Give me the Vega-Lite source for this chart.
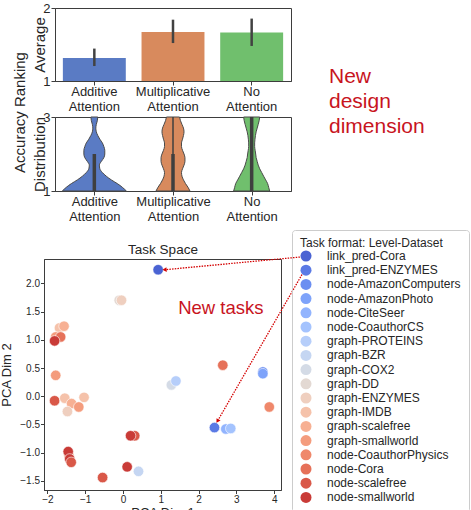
{
  "$schema": "https://vega.github.io/schema/vega-lite/v6.json",
  "padding": {"left": 0, "top": 1, "right": 0, "bottom": 0},
  "config": {
    "font": "Liberation Sans",
    "view": {"stroke": "#3d3d3d", "strokeWidth": 1},
    "axis": {"grid": false, "domainColor": "#3d3d3d", "tickColor": "#3d3d3d", "tickSize": 4, "labelColor": "#262626", "titleColor": "#262626", "titleFontWeight": "normal", "labelPadding": 2, "labelOverlap": false},
    "title": {"fontWeight": "normal", "color": "#262626"}
  },
  "resolve": {"scale": {"color": "independent", "strokeWidth": "independent"}, "legend": {"color": "independent"}},
  "spacing": 5,
  "vconcat": [
    {
      "spacing": -32,
      "resolve": {"scale": {"color": "independent"}},
      "hconcat": [
        {
          "width": 1,
          "height": 1,
          "view": {"stroke": null},
          "data": {"values": [{"t": ""}]},
          "mark": {"type": "text"},
          "encoding": {"text": {"field": "t"}}
        },
        {
          "spacing": 36,
          "resolve": {"scale": {"color": "independent"}},
          "hconcat": [
            {
              "title": {"text": "Accuracy Ranking", "orient": "left", "anchor": "middle", "fontSize": 15, "offset": 4},
              "spacing": -4,
              "resolve": {"scale": {"color": "independent"}},
              "vconcat": [
                {
                  "width": 236,
                  "height": 73,
                  "data": {"values": [
                    {"a": "Additive Attention", "m": 1.315, "lo": 1.205, "hi": 1.444},
                    {"a": "Multiplicative Attention", "m": 1.671, "lo": 1.52, "hi": 1.84},
                    {"a": "No Attention", "m": 1.663, "lo": 1.48, "hi": 1.855}
                  ]},
                  "layer": [
                    {
                      "mark": {"type": "bar"},
                      "encoding": {
                        "x": {"field": "a", "type": "nominal", "sort": null, "scale": {"paddingInner": 0.2, "paddingOuter": 0.1},
                          "axis": {"title": null, "labelAngle": 0, "labelExpr": "split(datum.label, ' ')", "labelFontSize": 13, "labelLineHeight": 14.5, "labelPadding": 0.5}},
                        "y": {"field": "m", "type": "quantitative", "scale": {"domain": [1, 2], "zero": false, "nice": false},
                          "axis": {"values": [1, 2], "format": "d", "title": "Average", "titleFontSize": 15, "labelFontSize": 13, "titlePadding": -5, "labelPadding": 1}},
                        "y2": {"datum": 1},
                        "color": {"field": "a", "type": "nominal", "sort": null, "scale": {"domain": ["Additive Attention", "Multiplicative Attention", "No Attention"], "range": ["#5a7bc4", "#d88a5d", "#70bf6d"]}, "legend": null}
                      }
                    },
                    {
                      "mark": {"type": "rule", "color": "#424242", "strokeWidth": 2.5},
                      "encoding": {
                        "x": {"field": "a", "type": "nominal", "sort": null},
                        "y": {"field": "lo", "type": "quantitative"},
                        "y2": {"field": "hi"}
                      }
                    }
                  ]
                },
                {
                  "width": 236,
                  "height": 74,
                  "layer": [
                    {
                      "data": {"values": [
                        {"a": "Additive Attention", "v": 1.0, "lo": -0.407, "hi": 0.407},
                        {"a": "Additive Attention", "v": 1.1, "lo": -0.356, "hi": 0.356},
                        {"a": "Additive Attention", "v": 1.2, "lo": -0.292, "hi": 0.292},
                        {"a": "Additive Attention", "v": 1.3, "lo": -0.216, "hi": 0.216},
                        {"a": "Additive Attention", "v": 1.4, "lo": -0.152, "hi": 0.152},
                        {"a": "Additive Attention", "v": 1.5, "lo": -0.102, "hi": 0.102},
                        {"a": "Additive Attention", "v": 1.6, "lo": -0.070, "hi": 0.070},
                        {"a": "Additive Attention", "v": 1.7, "lo": -0.064, "hi": 0.064},
                        {"a": "Additive Attention", "v": 1.8, "lo": -0.089, "hi": 0.089},
                        {"a": "Additive Attention", "v": 1.9, "lo": -0.121, "hi": 0.121},
                        {"a": "Additive Attention", "v": 2.0, "lo": -0.133, "hi": 0.133},
                        {"a": "Additive Attention", "v": 2.1, "lo": -0.133, "hi": 0.133},
                        {"a": "Additive Attention", "v": 2.2, "lo": -0.121, "hi": 0.121},
                        {"a": "Additive Attention", "v": 2.3, "lo": -0.102, "hi": 0.102},
                        {"a": "Additive Attention", "v": 2.4, "lo": -0.070, "hi": 0.070},
                        {"a": "Additive Attention", "v": 2.5, "lo": -0.044, "hi": 0.044},
                        {"a": "Additive Attention", "v": 2.6, "lo": -0.025, "hi": 0.025},
                        {"a": "Additive Attention", "v": 2.7, "lo": -0.019, "hi": 0.019},
                        {"a": "Additive Attention", "v": 2.8, "lo": -0.025, "hi": 0.025},
                        {"a": "Additive Attention", "v": 2.9, "lo": -0.038, "hi": 0.038},
                        {"a": "Additive Attention", "v": 3.0, "lo": -0.044, "hi": 0.044},
                        {"a": "Multiplicative Attention", "v": 1.0, "lo": 0.784, "hi": 1.216},
                        {"a": "Multiplicative Attention", "v": 1.1, "lo": 0.809, "hi": 1.191},
                        {"a": "Multiplicative Attention", "v": 1.2, "lo": 0.841, "hi": 1.159},
                        {"a": "Multiplicative Attention", "v": 1.3, "lo": 0.867, "hi": 1.133},
                        {"a": "Multiplicative Attention", "v": 1.4, "lo": 0.886, "hi": 1.114},
                        {"a": "Multiplicative Attention", "v": 1.5, "lo": 0.892, "hi": 1.108},
                        {"a": "Multiplicative Attention", "v": 1.6, "lo": 0.879, "hi": 1.121},
                        {"a": "Multiplicative Attention", "v": 1.7, "lo": 0.860, "hi": 1.140},
                        {"a": "Multiplicative Attention", "v": 1.8, "lo": 0.848, "hi": 1.152},
                        {"a": "Multiplicative Attention", "v": 1.9, "lo": 0.848, "hi": 1.152},
                        {"a": "Multiplicative Attention", "v": 2.0, "lo": 0.860, "hi": 1.140},
                        {"a": "Multiplicative Attention", "v": 2.1, "lo": 0.879, "hi": 1.121},
                        {"a": "Multiplicative Attention", "v": 2.2, "lo": 0.892, "hi": 1.108},
                        {"a": "Multiplicative Attention", "v": 2.3, "lo": 0.892, "hi": 1.108},
                        {"a": "Multiplicative Attention", "v": 2.4, "lo": 0.879, "hi": 1.121},
                        {"a": "Multiplicative Attention", "v": 2.5, "lo": 0.867, "hi": 1.133},
                        {"a": "Multiplicative Attention", "v": 2.6, "lo": 0.860, "hi": 1.140},
                        {"a": "Multiplicative Attention", "v": 2.7, "lo": 0.867, "hi": 1.133},
                        {"a": "Multiplicative Attention", "v": 2.8, "lo": 0.886, "hi": 1.114},
                        {"a": "Multiplicative Attention", "v": 2.9, "lo": 0.905, "hi": 1.095},
                        {"a": "Multiplicative Attention", "v": 3.0, "lo": 0.917, "hi": 1.083},
                        {"a": "No Attention", "v": 1.0, "lo": 1.771, "hi": 2.229},
                        {"a": "No Attention", "v": 1.1, "lo": 1.784, "hi": 2.216},
                        {"a": "No Attention", "v": 1.2, "lo": 1.797, "hi": 2.203},
                        {"a": "No Attention", "v": 1.3, "lo": 1.822, "hi": 2.178},
                        {"a": "No Attention", "v": 1.4, "lo": 1.848, "hi": 2.152},
                        {"a": "No Attention", "v": 1.5, "lo": 1.873, "hi": 2.127},
                        {"a": "No Attention", "v": 1.6, "lo": 1.898, "hi": 2.102},
                        {"a": "No Attention", "v": 1.7, "lo": 1.917, "hi": 2.083},
                        {"a": "No Attention", "v": 1.8, "lo": 1.930, "hi": 2.070},
                        {"a": "No Attention", "v": 1.9, "lo": 1.943, "hi": 2.057},
                        {"a": "No Attention", "v": 2.0, "lo": 1.949, "hi": 2.051},
                        {"a": "No Attention", "v": 2.1, "lo": 1.956, "hi": 2.044},
                        {"a": "No Attention", "v": 2.2, "lo": 1.962, "hi": 2.038},
                        {"a": "No Attention", "v": 2.3, "lo": 1.962, "hi": 2.038},
                        {"a": "No Attention", "v": 2.4, "lo": 1.958, "hi": 2.042},
                        {"a": "No Attention", "v": 2.5, "lo": 1.952, "hi": 2.048},
                        {"a": "No Attention", "v": 2.6, "lo": 1.943, "hi": 2.057},
                        {"a": "No Attention", "v": 2.7, "lo": 1.930, "hi": 2.070},
                        {"a": "No Attention", "v": 2.8, "lo": 1.917, "hi": 2.083},
                        {"a": "No Attention", "v": 2.9, "lo": 1.905, "hi": 2.095},
                        {"a": "No Attention", "v": 3.0, "lo": 1.898, "hi": 2.102}
                      ]},
                      "mark": {"type": "area", "orient": "horizontal", "interpolate": "monotone", "stroke": "#4a4a4a", "strokeWidth": 1},
                      "encoding": {
                        "y": {"field": "v", "type": "quantitative", "scale": {"domain": [1, 3], "nice": false, "zero": false},
                          "axis": {"values": [1, 2, 3], "format": "d", "title": "Distribution", "titleFontSize": 15, "labelFontSize": 13, "titlePadding": -5, "labelPadding": 1}},
                        "x": {"field": "lo", "type": "quantitative", "scale": {"domain": [-0.5, 2.5], "nice": false, "zero": false},
                          "axis": {"values": [0, 1, 2], "title": null, "labelFontSize": 13, "labelLineHeight": 14.5, "labelPadding": 0.5,
                            "labelExpr": "[['Additive', 'Attention'], ['Multiplicative', 'Attention'], ['No', 'Attention']][datum.value]"}},
                        "x2": {"field": "hi"},
                        "color": {"field": "a", "type": "nominal", "sort": null, "scale": {"domain": ["Additive Attention", "Multiplicative Attention", "No Attention"], "range": ["#5a7bc4", "#d88a5d", "#70bf6d"]}, "legend": null}
                      }
                    },
                    {
                      "data": {"values": [
                        {"p": 0, "v1": 1, "v2": 2, "kind": "box"},
                        {"p": 1, "v1": 1, "v2": 2, "kind": "box"},
                        {"p": 1, "v1": 2, "v2": 3, "kind": "whisker"},
                        {"p": 2, "v1": 1, "v2": 3, "kind": "box"}
                      ]},
                      "mark": {"type": "rule", "color": "#3f3f3f"},
                      "encoding": {
                        "x": {"field": "p", "type": "quantitative"},
                        "y": {"field": "v1", "type": "quantitative"},
                        "y2": {"field": "v2"},
                        "strokeWidth": {"field": "kind", "type": "nominal", "scale": {"domain": ["box", "whisker"], "range": [3.5, 1.5]}, "legend": null}
                      }
                    }
                  ]
                }
              ]
            },
            {
              "width": 2,
              "height": 137,
              "view": {"stroke": null},
              "data": {"values": [{"t": "New design dimension"}]},
              "mark": {"type": "text", "align": "left", "baseline": "middle", "fontSize": 21, "lineHeight": 25, "color": "#c8141e"},
              "encoding": {"text": {"value": ["New", "design", "dimension"]}}
            }
          ]
        }
      ]
    },
    {
      "width": 237,
      "height": 231,
      "resolve": {"axis": {"x": "independent", "y": "independent"}},
      "layer": [
        {
          "data": {"values": [
            {"task": "graph-DD", "x": -0.10, "y": 1.70},
            {"task": "graph-ENZYMES", "x": -0.04, "y": 1.70},
            {"task": "graph-IMDB", "x": -1.68, "y": 1.21},
            {"task": "graph-scalefree", "x": -1.56, "y": 1.24},
            {"task": "graph-smallworld", "x": -1.78, "y": 1.05},
            {"task": "node-Cora", "x": -1.65, "y": 1.05},
            {"task": "node-smallworld", "x": -1.81, "y": 0.98},
            {"task": "graph-smallworld", "x": -1.78, "y": 0.37},
            {"task": "node-scalefree", "x": -1.81, "y": -0.08},
            {"task": "graph-IMDB", "x": -1.54, "y": -0.035},
            {"task": "graph-scalefree", "x": -1.36, "y": -0.13},
            {"task": "graph-ENZYMES", "x": -1.47, "y": -0.27},
            {"task": "graph-smallworld", "x": -1.17, "y": -0.19},
            {"task": "graph-IMDB", "x": -1.03, "y": -0.02},
            {"task": "graph-scalefree", "x": -1.43, "y": -1.05},
            {"task": "node-smallworld", "x": -1.45, "y": -0.98},
            {"task": "node-smallworld", "x": -1.41, "y": -1.11},
            {"task": "node-scalefree", "x": -1.37, "y": -1.17},
            {"task": "node-scalefree", "x": -0.54, "y": -1.44},
            {"task": "node-smallworld", "x": 0.11, "y": -1.25},
            {"task": "graph-BZR", "x": 0.41, "y": -1.33},
            {"task": "node-scalefree", "x": 0.31, "y": -0.70},
            {"task": "node-smallworld", "x": 0.20, "y": -0.70},
            {"task": "graph-COX2", "x": 1.28, "y": 0.20},
            {"task": "graph-PROTEINS", "x": 1.40, "y": 0.27},
            {"task": "node-Cora", "x": 2.64, "y": 0.55},
            {"task": "node-AmazonComputers", "x": 3.70, "y": 0.43},
            {"task": "node-AmazonPhoto", "x": 3.70, "y": 0.40},
            {"task": "node-CoauthorPhysics", "x": 3.87, "y": -0.19},
            {"task": "node-CiteSeer", "x": 2.72, "y": -0.58},
            {"task": "node-CoauthorCS", "x": 2.85, "y": -0.57},
            {"task": "link_pred-ENZYMES", "x": 2.42, "y": -0.555},
            {"task": "link_pred-Cora", "x": 0.93, "y": 2.24}
          ]},
          "mark": {"type": "circle", "size": 110, "opacity": 1, "stroke": "white", "strokeWidth": 0.6},
          "encoding": {
            "x": {"field": "x", "type": "quantitative", "scale": {"domain": [-2.09, 4.18], "nice": false, "zero": false},
              "axis": {"values": [-2, -1, 0, 1, 2, 3, 4], "format": "d", "title": "PCA Dim 1", "titleFontSize": 13, "labelFontSize": 10, "titlePadding": 2, "labelPadding": 1, "tickSize": 3.5, "labelOverlap": false}},
            "y": {"field": "y", "type": "quantitative", "scale": {"domain": [-1.66, 2.43], "nice": false, "zero": false},
              "axis": {"orient": "left", "values": [-1.5, -1, -0.5, 0, 0.5, 1, 1.5, 2], "format": ".1f", "title": "PCA Dim 2", "titleFontSize": 13, "labelFontSize": 10, "titlePadding": 6, "labelPadding": 1, "tickSize": 3.5, "labelOverlap": false}},
            "color": {"field": "task", "type": "nominal",
              "scale": {
                "domain": ["link_pred-Cora", "link_pred-ENZYMES", "node-AmazonComputers", "node-AmazonPhoto", "node-CiteSeer", "node-CoauthorCS", "graph-PROTEINS", "graph-BZR", "graph-COX2", "graph-DD", "graph-ENZYMES", "graph-IMDB", "graph-scalefree", "graph-smallworld", "node-CoauthorPhysics", "node-Cora", "node-scalefree", "node-smallworld"],
                "range": ["#4a63d3", "#5b7ae5", "#6c8ff1", "#7ea3fa", "#92b4fe", "#a4c3fe", "#b6cefa", "#c5d6f2", "#d4dbe6", "#e3d9d3", "#efcfbf", "#f5c2aa", "#f7b093", "#f49c7d", "#ef886b", "#e67159", "#d95848", "#c93b37"]
              },
              "legend": {"title": "Task format: Level-Dataset", "orient": "none", "legendX": 248, "legendY": -29,
                "symbolType": "circle", "symbolSize": 121, "symbolStrokeWidth": 0, "labelFontSize": 12, "titleFontSize": 12,
                "titleFontWeight": "normal", "titleColor": "#262626", "labelColor": "#262626", "strokeColor": "#cccccc",
                "padding": 8, "cornerRadius": 3, "rowPadding": 2.2, "labelOffset": 15, "titlePadding": 0, "labelLimit": 300}
            }
          }
        },
        {
          "data": {"values": [
            {"x": 4.68, "y": 2.465, "x2": 1.10, "y2": 2.24},
            {"x": 4.735, "y": 2.155, "x2": 2.50, "y2": -0.44}
          ]},
          "mark": {"type": "rule", "color": "#d40000", "strokeWidth": 1.3, "strokeDash": [1.5, 1.2]},
          "encoding": {
            "x": {"field": "x", "type": "quantitative", "axis": null},
            "y": {"field": "y", "type": "quantitative", "axis": null},
            "x2": {"field": "x2"},
            "y2": {"field": "y2"}
          }
        },
        {
          "data": {"values": [{"x": 1.10, "y": 2.24}]},
          "mark": {"type": "point", "shape": "triangle-left", "filled": true, "size": 22, "color": "#d40000", "opacity": 1, "angle": -4},
          "encoding": {"x": {"field": "x", "type": "quantitative", "axis": null}, "y": {"field": "y", "type": "quantitative", "axis": null}}
        },
        {
          "data": {"values": [{"x": 2.50, "y": -0.44}]},
          "mark": {"type": "point", "shape": "triangle-down", "filled": true, "size": 22, "color": "#d40000", "opacity": 1, "angle": 31},
          "encoding": {"x": {"field": "x", "type": "quantitative", "axis": null}, "y": {"field": "y", "type": "quantitative", "axis": null}}
        },
        {
          "data": {"values": [{"x": 1.46, "y": 1.56, "t": "New tasks"}]},
          "mark": {"type": "text", "align": "left", "baseline": "middle", "fontSize": 18.5, "color": "#c8141e"},
          "encoding": {
            "x": {"field": "x", "type": "quantitative",
              "axis": {"orient": "top", "title": "Task Space", "labels": false, "ticks": false, "domain": false, "titleFontSize": 13.5, "titlePadding": 3, "titleFontWeight": "normal"}},
            "y": {"field": "y", "type": "quantitative", "axis": null},
            "text": {"field": "t"}
          }
        }
      ]
    }
  ]
}
